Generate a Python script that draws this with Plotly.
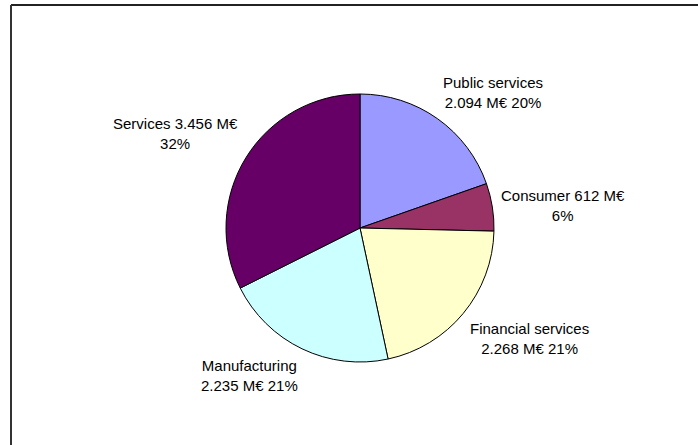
import math
import plotly.graph_objects as go

categories = ["Public services", "Consumer", "Financial services", "Manufacturing", "Services"]
values = [2094, 612, 2268, 2235, 3456]
colors = ["#9999FF", "#993366", "#FFFFCC", "#CCFFFF", "#660066"]
# whether the value goes on the first line (with the name) or the second line
value_on_first_line = [False, True, False, False, True]

total = sum(values)
texts = []
for name, v, first in zip(categories, values, value_on_first_line):
    vs = f"{v:,}".replace(",", ".") + " M€"
    pct = f"{round(100 * v / total)}%"
    if first:
        texts.append(f"{name} {vs}<br>{pct}")
    else:
        texts.append(f"{name}<br>{vs} {pct}")

W, H = 698, 445
cx, cy, r = 360, 228, 134
gap = 8

fig = go.Figure(go.Pie(
    labels=categories,
    values=values,
    textinfo="none",
    sort=False,
    direction="clockwise",
    rotation=0,
    marker=dict(colors=colors, line=dict(color="black", width=1)),
    domain=dict(x=[(cx - r) / W, (cx + r) / W], y=[1 - (cy + r) / H, 1 - (cy - r) / H]),
    automargin=False,
    showlegend=False,
    hoverinfo="label+value+percent",
))

# outside labels: the nearest point of each label box sits on the slice's mid-angle ray
annotations = []
cum = 0
for v, t in zip(values, texts):
    mid = 2 * math.pi * (cum + v / 2) / total
    cum += v
    s, c = math.sin(mid), math.cos(mid)
    px = cx + (r + gap) * s
    py = cy - (r + gap) * c
    xanchor = "left" if s > 0 else "right"
    if abs(c) < 0.3:
        yanchor = "middle"
    else:
        yanchor = "bottom" if c > 0 else "top"
    annotations.append(dict(
        x=px / W, y=1 - py / H, xref="paper", yref="paper",
        text=t, showarrow=False, xanchor=xanchor, yanchor=yanchor, align="center",
        borderpad=0,
        font=dict(family="Liberation Sans, Arial, sans-serif", size=15, color="black"),
    ))

fig.update_layout(
    width=W, height=H,
    margin=dict(l=0, r=0, t=0, b=0),
    paper_bgcolor="white",
    plot_bgcolor="white",
    annotations=annotations,
    shapes=[
        dict(type="line", xref="paper", yref="paper", x0=11 / W, x1=1.01, y0=1 - 5 / H, y1=1 - 5 / H,
             line=dict(color="#222222", width=2)),
        dict(type="line", xref="paper", yref="paper", x0=11 / W, x1=11 / W, y0=1 - 5 / H, y1=-0.01,
             line=dict(color="#333333", width=2)),
    ],
)

fig.write_html("out.html", config={"displayModeBar": False},
               post_script="document.body.style.margin='0';document.body.style.overflow='hidden';")
